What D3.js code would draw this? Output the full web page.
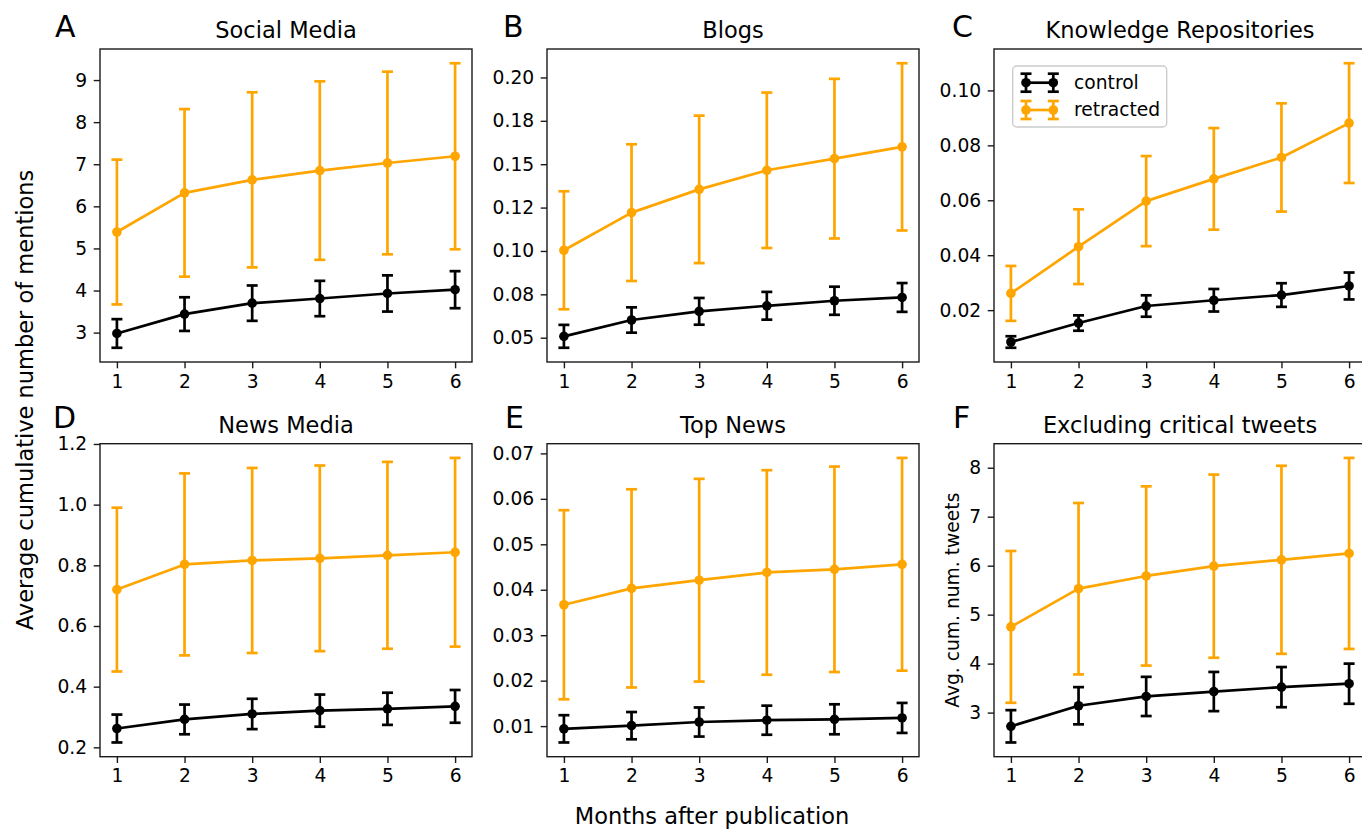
<!DOCTYPE html>
<html><head><meta charset="utf-8">
<script src="https://cdn.jsdelivr.net/npm/d3@7"></script>
<style>body{margin:0;background:#fff}svg{display:block;font-family:"DejaVu Sans",sans-serif}</style>
</head><body><svg id="c" width="1362" height="829"></svg>
<script>
const months = [1, 2, 3, 4, 5, 6];
const panelLetters = ["A", "B", "C", "D", "E", "F"];
const panelTitles = ["Social Media", "Blogs", "Knowledge Repositories", "News Media", "Top News", "Excluding critical tweets"];
const seriesNames = ["control", "retracted"];
const seriesColors = ["#000000", "#FFA500"];

// A: Social Media
const socialControl = [2.98, 3.44, 3.70, 3.81, 3.93, 4.02];
const socialControlErr = [0.34, 0.40, 0.42, 0.42, 0.43, 0.44];
const socialRetracted = [5.39, 6.32, 6.63, 6.85, 7.03, 7.19];
const socialRetractedErr = [1.72, 1.99, 2.08, 2.12, 2.17, 2.21];
// B: Blogs
const blogsControl = [0.0508, 0.0602, 0.0652, 0.0684, 0.0713, 0.0732];
const blogsControlErr = [0.0066, 0.0073, 0.0077, 0.0080, 0.0081, 0.0083];
const blogsRetracted = [0.1004, 0.1221, 0.1355, 0.1465, 0.1532, 0.1600];
const blogsRetractedErr = [0.0340, 0.0394, 0.0425, 0.0448, 0.0460, 0.0482];
// C: Knowledge Repositories
const knowControl = [0.0084, 0.0153, 0.0215, 0.0236, 0.0255, 0.0288];
const knowControlErr = [0.0021, 0.0028, 0.0039, 0.0041, 0.0043, 0.0049];
const knowRetracted = [0.0261, 0.0431, 0.0597, 0.0678, 0.0756, 0.0881];
const knowRetractedErr = [0.0100, 0.0136, 0.0164, 0.0185, 0.0197, 0.0218];
// D: News Media
const newsControl = [0.262, 0.292, 0.310, 0.321, 0.327, 0.335];
const newsControlErr = [0.046, 0.049, 0.050, 0.053, 0.053, 0.054];
const newsRetracted = [0.720, 0.803, 0.816, 0.823, 0.833, 0.843];
const newsRetractedErr = [0.270, 0.300, 0.305, 0.306, 0.308, 0.311];
// E: Top News
const topControl = [0.0094, 0.0101, 0.0109, 0.0113, 0.0115, 0.0118];
const topControlErr = [0.0030, 0.0030, 0.0032, 0.0032, 0.0033, 0.0033];
const topRetracted = [0.0367, 0.0403, 0.0421, 0.0438, 0.0445, 0.0456];
const topRetractedErr = [0.0208, 0.0218, 0.0223, 0.0225, 0.0226, 0.0234];
// F: Excluding critical tweets
const exclControl = [2.72, 3.14, 3.33, 3.43, 3.52, 3.59];
const exclControlErr = [0.33, 0.38, 0.40, 0.40, 0.41, 0.41];
const exclRetracted = [4.75, 5.53, 5.79, 5.99, 6.12, 6.25];
const exclRetractedErr = [1.55, 1.75, 1.83, 1.87, 1.92, 1.95];

// tick values and labels
const xTicks = [1, 2, 3, 4, 5, 6];
const ticksA = [3, 4, 5, 6, 7, 8, 9];
const labelsA = ["3", "4", "5", "6", "7", "8", "9"];
const ticksB = [0.05, 0.075, 0.10, 0.125, 0.15, 0.175, 0.20];
const labelsB = ["0.05", "0.08", "0.10", "0.12", "0.15", "0.18", "0.20"];
const ticksC = [0.02, 0.04, 0.06, 0.08, 0.10];
const labelsC = ["0.02", "0.04", "0.06", "0.08", "0.10"];
const ticksD = [0.2, 0.4, 0.6, 0.8, 1.0, 1.2];
const labelsD = ["0.2", "0.4", "0.6", "0.8", "1.0", "1.2"];
const ticksE = [0.01, 0.02, 0.03, 0.04, 0.05, 0.06, 0.07];
const labelsE = ["0.01", "0.02", "0.03", "0.04", "0.05", "0.06", "0.07"];
const ticksF = [3, 4, 5, 6, 7, 8];
const labelsF = ["3", "4", "5", "6", "7", "8"];

const panels = [
  {series: [[socialControl, socialControlErr], [socialRetracted, socialRetractedErr]], ticks: ticksA, labels: labelsA},
  {series: [[blogsControl, blogsControlErr], [blogsRetracted, blogsRetractedErr]], ticks: ticksB, labels: labelsB},
  {series: [[knowControl, knowControlErr], [knowRetracted, knowRetractedErr]], ticks: ticksC, labels: labelsC, legend: true},
  {series: [[newsControl, newsControlErr], [newsRetracted, newsRetractedErr]], ticks: ticksD, labels: labelsD},
  {series: [[topControl, topControlErr], [topRetracted, topRetractedErr]], ticks: ticksE, labels: labelsE},
  {series: [[exclControl, exclControlErr], [exclRetracted, exclRetractedErr]], ticks: ticksF, labels: labelsF, ylabel: "Avg. cum. num. tweets"}
];

const svg = d3.select("#c");
svg.append("rect").attr("width", 1362).attr("height", 829).attr("fill", "#fff");

const colLeft = [100, 547, 994];
const rowTop = [49, 443.7];
const W = 372, H = 313;
const LW = 2.7, CAP = 5.5, R = 4.8;
const TICKFS = 18.7, TITLEFS = 22.5;

panels.forEach((p, i) => {
  const left = colLeft[i % 3], top = rowTop[Math.floor(i / 3)];
  const x = d3.scaleLinear().domain([0.75, 6.25]).range([left, left + W]);
  let lo = Infinity, hi = -Infinity;
  p.series.forEach(([m, e]) => m.forEach((v, k) => { lo = Math.min(lo, v - e[k]); hi = Math.max(hi, v + e[k]); }));
  const pad = (hi - lo) * 0.05;
  const y = d3.scaleLinear().domain([lo - pad, hi + pad]).range([top + H, top]);

  const g = svg.append("g");
  p.series.forEach(([m, e], s) => {
    const col = seriesColors[s];
    const sg = g.append("g");
    months.forEach((mo, k) => {
      const cx = x(mo);
      sg.append("line").attr("x1", cx).attr("x2", cx).attr("y1", y(m[k] - e[k])).attr("y2", y(m[k] + e[k]))
        .attr("stroke", col).attr("stroke-width", LW);
      [m[k] - e[k], m[k] + e[k]].forEach(v => {
        sg.append("line").attr("x1", cx - CAP).attr("x2", cx + CAP).attr("y1", y(v)).attr("y2", y(v))
          .attr("stroke", col).attr("stroke-width", LW);
      });
    });
    sg.append("path").datum(months.map((mo, k) => [mo, m[k]]))
      .attr("d", d3.line().x(d => x(d[0])).y(d => y(d[1])))
      .attr("fill", "none").attr("stroke", col).attr("stroke-width", LW).attr("stroke-linejoin", "round");
    sg.selectAll("circle.pt").data(months.map((mo, k) => [mo, m[k]])).enter().append("circle")
      .attr("cx", d => x(d[0])).attr("cy", d => y(d[1])).attr("r", R).attr("fill", col);
  });

  // frame
  g.append("rect").attr("x", left).attr("y", top).attr("width", W).attr("height", H)
    .attr("fill", "none").attr("stroke", "#1a1a1a").attr("stroke-width", 1.4);

  // axes
  const yAx = g.append("g").attr("transform", `translate(${left},0)`)
    .call(d3.axisLeft(y).tickValues(p.ticks).tickFormat((d, k) => p.labels[k]).tickSize(6.3).tickPadding(6.5));
  const xAx = g.append("g").attr("transform", `translate(0,${top + H})`)
    .call(d3.axisBottom(x).tickValues(xTicks).tickFormat(d3.format("d")).tickSize(6.3).tickPadding(6));
  [yAx, xAx].forEach(a => {
    a.select(".domain").remove();
    a.selectAll("line").attr("stroke", "#1a1a1a").attr("stroke-width", 1.4);
    a.selectAll("text").attr("font-size", TICKFS).attr("fill", "#000").attr("font-family", '"DejaVu Sans",sans-serif');
  });

  // title & letter
  g.append("text").attr("x", left + W / 2).attr("y", top - 11).attr("text-anchor", "middle")
    .attr("font-size", TITLEFS).attr("fill", "#000").text(panelTitles[i]);
  const letterX = [55, 503, 952, 53, 505, 953];
  const letterY = [37, 37, 37, 428, 428, 428];
  g.append("text").attr("x", letterX[i]).attr("y", letterY[i]).attr("font-size", 30).attr("fill", "#000").text(panelLetters[i]);

  if (p.ylabel) {
    g.append("text").attr("transform", `translate(${left - 35},${top + H / 2}) rotate(-90)`)
      .attr("text-anchor", "middle").attr("font-size", TICKFS).attr("fill", "#000").text(p.ylabel);
  }

  if (p.legend) {
    const lx = 1012.7, ly = 66;
    const lg = g.append("g");
    lg.append("rect").attr("x", lx).attr("y", ly).attr("width", 154).attr("height", 61).attr("rx", 4)
      .attr("fill", "#fff").attr("fill-opacity", 0.8).attr("stroke", "#cccccc").attr("stroke-width", 1.4);
    seriesNames.forEach((nm, s) => {
      const cy = ly + 16.7 + s * 27.3;
      const col = seriesColors[s];
      lg.append("line").attr("x1", lx + 13.3).attr("x2", lx + 40.6).attr("y1", cy).attr("y2", cy)
        .attr("stroke", col).attr("stroke-width", LW);
      [lx + 13.3, lx + 40.6].forEach(hx => {
        lg.append("line").attr("x1", hx).attr("x2", hx).attr("y1", cy - 9).attr("y2", cy + 9).attr("stroke", col).attr("stroke-width", LW);
        [cy - 9, cy + 9].forEach(vy => lg.append("line").attr("x1", hx - CAP).attr("x2", hx + CAP).attr("y1", vy).attr("y2", vy)
          .attr("stroke", col).attr("stroke-width", LW));
        lg.append("circle").attr("cx", hx).attr("cy", cy).attr("r", R).attr("fill", col);
      });
      lg.append("text").attr("x", lx + 61.3).attr("y", cy + 6).attr("font-size", TICKFS).attr("fill", "#000").text(nm);
    });
  }
});

// shared labels
svg.append("text").attr("transform", "translate(33,400) rotate(-90)").attr("text-anchor", "middle")
  .attr("font-size", TITLEFS).attr("fill", "#000").text("Average cumulative number of mentions");
svg.append("text").attr("x", 712).attr("y", 824).attr("text-anchor", "middle")
  .attr("font-size", TITLEFS).attr("fill", "#000").text("Months after publication");
</script></body></html>
